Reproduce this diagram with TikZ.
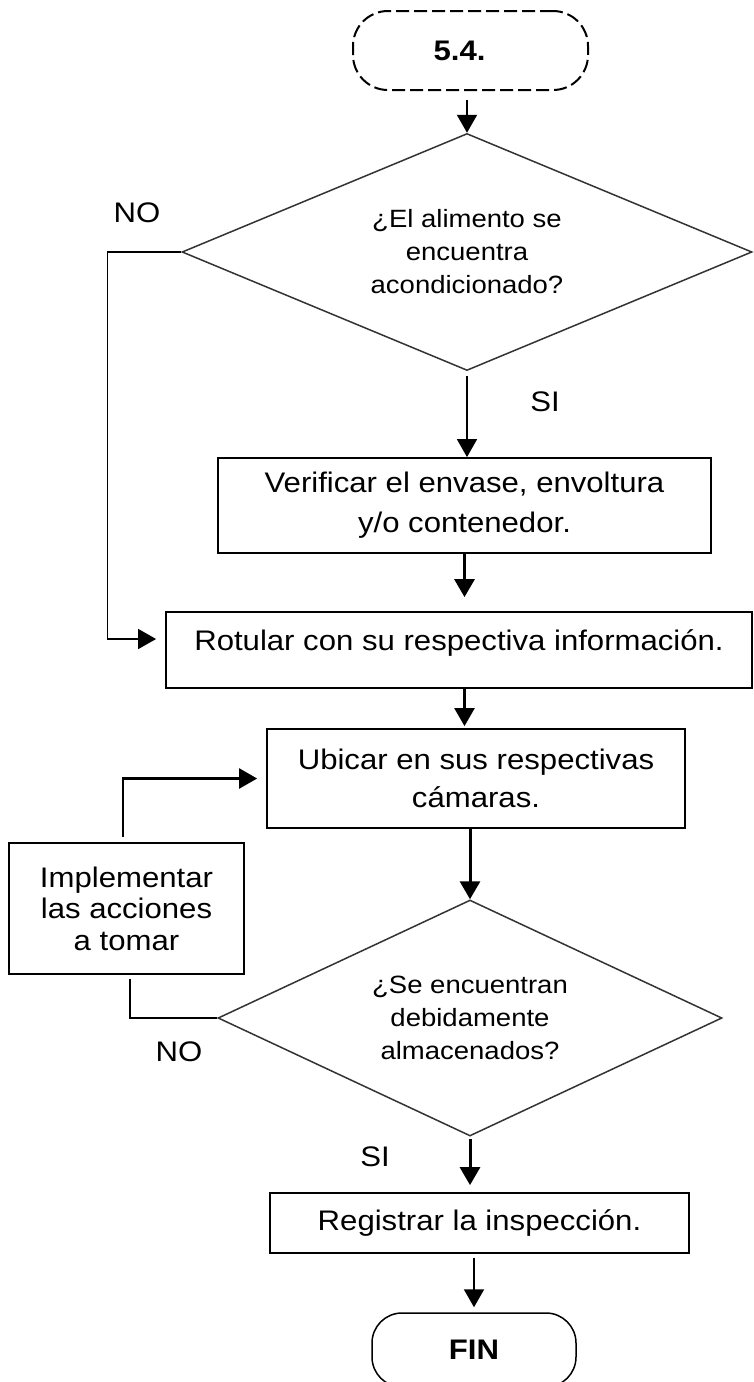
\documentclass[tikz,border=0pt]{standalone}
\usepackage{fontspec}
\setmainfont{Liberation Sans}[FakeStretch=1.1]
\usetikzlibrary{shapes.geometric, arrows.meta}

\begin{document}
\begin{tikzpicture}[x=1pt, y=1pt, >={Triangle[width=20pt,length=18pt]},
    caja/.style={draw, line width=1.8pt, inner sep=0pt, align=center, font=\fontsize{28.3}{38}\selectfont},
    rombo/.style={draw=black!80, line width=1.5pt, diamond, aspect=2.4, inner sep=0pt, align=center, font=\fontsize{25}{33}\selectfont},
    terminal/.style={draw, line width=1.5pt, rounded corners=30pt, inner sep=0pt, font=\bfseries\fontsize{28.3}{34}\selectfont},
    flecha/.style={->, line width=2pt},
    flechagruesa/.style={->, line width=3pt},
    etiqueta/.style={font=\fontsize{28.3}{34}\selectfont}]

    % marco de la figura
    \useasboundingbox (0,0) rectangle (754,-1382);
    \clip (0,0) rectangle (754,-1382);

    % inicio y fin
    \node[terminal, line width=2pt, rounded corners=35pt, dash pattern=on 13pt off 5pt, minimum width=235pt, minimum height=79pt] (inicio) at (470.5,-50.5) {5.4.\hspace*{22pt}};
    \node[terminal, minimum width=204pt, minimum height=74pt] (fin) at (474,-1350) {FIN};

    % decisiones
    \node[rombo, minimum width=570pt, minimum height=237pt] (alimento) at (467,-252) {¿El alimento se\\encuentra\\acondicionado?};
    \node[rombo, minimum width=504pt, minimum height=236pt] (almacenados) at (470,-1018) {¿Se encuentran\\debidamente\\almacenados?};

    % actividades
    \node[caja, minimum width=493pt, minimum height=95pt, font=\fontsize{28.3}{40}\selectfont] (verificar) at (464.5,-505.5) {Verificar el envase, envoltura\\y/o contenedor.};
    \node[caja, minimum width=586pt, minimum height=76pt] (rotular) at (459,-650) {\smash{Rotular con su respectiva información.}};
    \node[caja, minimum width=418pt, minimum height=99pt] (ubicar) at (476,-778.5) {Ubicar en sus respectivas\\cámaras.};
    \node[caja, minimum width=235pt, minimum height=131pt, font=\fontsize{28.3}{31.5}\selectfont] (implementar) at (126.5,-908.5) {Implementar\\las acciones\\a tomar};
    \node[caja, minimum width=419pt, minimum height=60pt] (registrar) at (479.5,-1223) {Registrar la inspección.};

    % flechas del flujo principal
    \draw[flecha, shorten <=9pt] (alimento.north |- inicio.south) -- (alimento.north);
    \draw[flecha, line width=1.5pt, shorten <=5pt] (alimento.south) -- (alimento.south |- verificar.north);
    \draw[flechagruesa, shorten >=14pt] (verificar.south) -- (verificar.south |- rotular.north);
    \draw[flecha, line width=2.5pt, shorten >=2pt] (rotular.south -| verificar.south) -- (ubicar.north -| verificar.south);
    \draw[flechagruesa] (almacenados.north |- ubicar.south) -- (almacenados.north);
    \draw[flechagruesa, shorten <=2pt, shorten >=7pt] (almacenados.south) -- (almacenados.south |- registrar.north);
    \draw[flecha, shorten <=4pt, shorten >=5pt] (fin.north |- registrar.south) -- (fin.north);

    % ramas NO
    \draw[flecha, line width=1.5pt, shorten >=9pt] (alimento.west) -- ++(-74,0) |- ([yshift=11pt]rotular.west);
    \draw[line width=1.5pt, shorten >=4pt] (almacenados.west) -| ([xshift=3.5pt]implementar.south);
    \draw[flecha, line width=2.5pt, shorten <=5pt, shorten >=9pt] ([xshift=-3.5pt]implementar.north) |- (ubicar.west);

    % etiquetas
    \node[etiqueta] (no1) at (137,-213) {NO};
    \node[etiqueta] (si1) at (545,-402) {SI};
    \node[etiqueta] (no2) at (179,-1052) {NO};
    \node[etiqueta] (si2) at (375,-1157) {SI};
\end{tikzpicture}
\end{document}
